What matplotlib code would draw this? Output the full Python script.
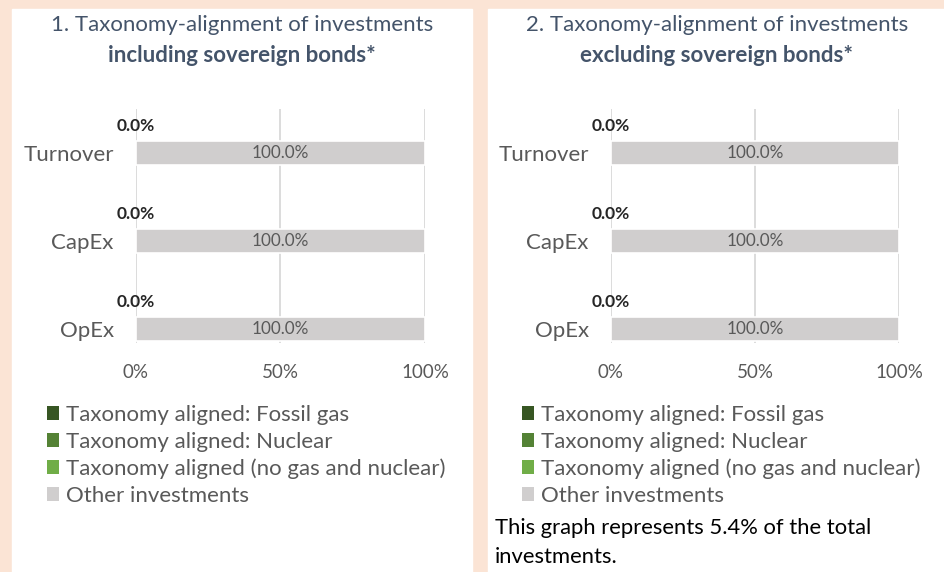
import matplotlib
matplotlib.use("Agg")
import matplotlib.pyplot as plt
from matplotlib.patches import Rectangle

plt.rcParams["font.family"] = ["Lato", "DejaVu Sans"]

# --- données ---
CATEGORIES = ["Turnover", "CapEx", "OpEx"]
SERIES = ["Taxonomy aligned: Fossil gas", "Taxonomy aligned: Nuclear",
          "Taxonomy aligned (no gas and nuclear)", "Other investments"]
COULEURS = ["#375623", "#548235", "#70AD47", "#D0CECE"]

incl_fossil = [0.0, 0.0, 0.0]
incl_nuclear = [0.0, 0.0, 0.0]
incl_aligned = [0.0, 0.0, 0.0]
incl_other = [100.0, 100.0, 100.0]

excl_fossil = [0.0, 0.0, 0.0]
excl_nuclear = [0.0, 0.0, 0.0]
excl_aligned = [0.0, 0.0, 0.0]
excl_other = [100.0, 100.0, 100.0]

XTICKS = [0, 50, 100]
XTICK_LABELS = ["0%", "50%", "100%"]

TITRES = [("1. Taxonomy-alignment of investments", "including sovereign bonds*"),
          ("2. Taxonomy-alignment of investments", "excluding sovereign bonds*")]
NOTE = ["This graph represents 5.4% of the total", "investments."]

W, H = 945, 572
GRIS = "#595959"
TITRE_COUL = "#44546A"


def fx(px):
    return px / W


def fy(py):
    return 1 - py / H


fig = plt.figure(figsize=(W / 100, H / 100), dpi=100, facecolor="#FBE4D5")

# panneaux blancs
for x0, x1 in [(12, 472), (488, 945)]:
    fig.add_artist(Rectangle((fx(x0), 0), fx(x1) - fx(x0), fy(9),
                             transform=fig.transFigure, color="white", zorder=0))


def panneau(x0, x1, cx, leg_x, titre, donnees):
    ax = fig.add_axes([fx(x0), fy(343), fx(x1) - fx(x0), fy(109) - fy(343)])
    ax.set_facecolor("none")
    y = list(range(len(CATEGORIES)))
    gauche = [0.0] * len(CATEGORIES)
    for vals, nom, c in zip(donnees, SERIES, COULEURS):
        ax.barh(y, vals, left=gauche, height=0.27, color=c,
                edgecolor="white", linewidth=1.2, label=nom, zorder=3)
        gauche = [g + v for g, v in zip(gauche, vals)]

    aligne = [a + b + c for a, b, c in zip(*donnees[:3])]
    for i in y:
        ax.text(aligne[i], i - 0.31, f"{aligne[i]:.1f}%", ha="center",
                va="center", fontsize=12.5, fontweight="bold", color="#262626",
                zorder=5)
        ax.text(aligne[i] + donnees[3][i] / 2, i, f"{donnees[3][i]:.1f}%",
                ha="center", va="center", fontsize=12.3, color=GRIS, zorder=5)

    ax.set_xlim(0, 100)
    ax.set_ylim(2.16, -0.5)
    ax.set_xticks(XTICKS)
    ax.set_xticklabels(XTICK_LABELS)
    ax.set_yticks(y)
    ax.set_yticklabels(CATEGORIES)
    ax.tick_params(axis="x", length=0, pad=15, labelsize=13.5, labelcolor=GRIS)
    ax.tick_params(axis="y", length=0, pad=16, labelsize=16, labelcolor=GRIS)
    for s in ax.spines.values():
        s.set_visible(False)
    ax.grid(axis="x", color="#D9D9D9", linewidth=1.3, zorder=0)
    ax.set_axisbelow(True)

    fig.text(fx(cx), fy(25), titre[0], ha="center", va="center",
             fontsize=16, color=TITRE_COUL)
    fig.text(fx(cx), fy(56), titre[1], ha="center", va="center",
             fontsize=16, fontweight="bold", color=TITRE_COUL)

    # légende : carrés pleins sans bordure
    poignees = [Rectangle((0, 0), 1, 1, facecolor=c, edgecolor="none")
                for c in COULEURS]
    ax.legend(poignees, SERIES, loc="upper left",
              bbox_to_anchor=(fx(leg_x), fy(405)), bbox_transform=fig.transFigure,
              frameon=False, fontsize=16, labelcolor=GRIS,
              handlelength=0.56, handleheight=0.56, handletextpad=0.3,
              labelspacing=0.3, borderpad=0, borderaxespad=0)
    return ax


panneau(136, 425, 242, 47, TITRES[0],
        [incl_fossil, incl_nuclear, incl_aligned, incl_other])
panneau(611, 899, 717, 522, TITRES[1],
        [excl_fossil, excl_nuclear, excl_aligned, excl_other])

fig.text(fx(495), fy(528), NOTE[0], ha="left", va="center", fontsize=15.8,
         color="black")
fig.text(fx(495), fy(557), NOTE[1], ha="left", va="center", fontsize=15.8,
         color="black")

fig.savefig("out.png", dpi=100, facecolor=fig.get_facecolor())
